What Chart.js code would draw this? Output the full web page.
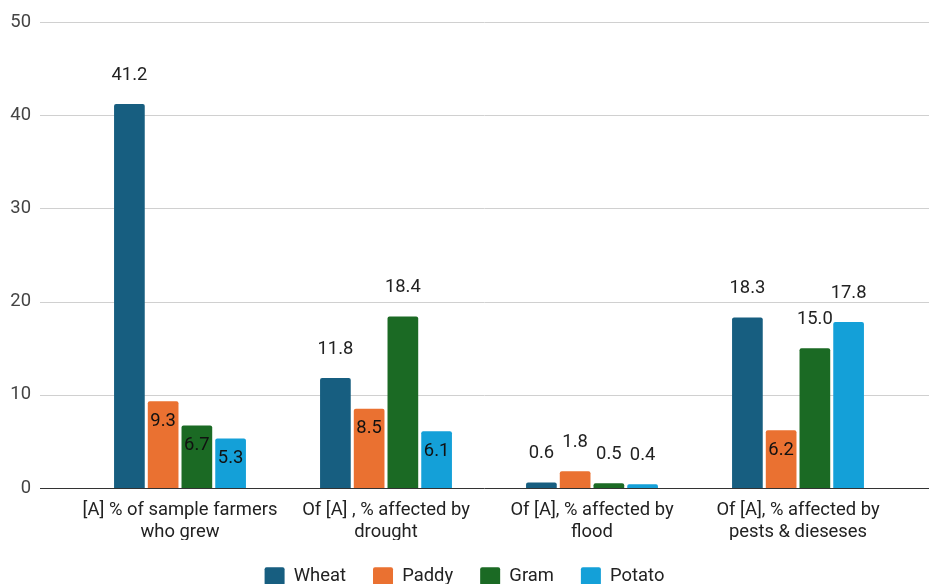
<!DOCTYPE html>
<html>
<head>
<meta charset="utf-8">
<script src="https://cdn.jsdelivr.net/npm/chart.js@4/dist/chart.umd.min.js"></script>
<style>
  html, body { margin: 0; padding: 0; background: #ffffff; }
  #wrap { width: 929px; height: 584px; }
</style>
</head>
<body>
<div id="wrap"><canvas id="c" width="929" height="584"></canvas></div>
<script>
// Categories (two-line axis labels)
const categories = [
  ["[A] % of sample farmers", "who grew"],
  ["Of [A] , % affected by", "drought"],
  ["Of [A], % affected by", "flood"],
  ["Of [A], % affected by", "pests & dieseses"]
];

// Series values
const wheat  = [41.2, 11.8, 0.6, 18.3];
const paddy  = [9.3, 8.5, 1.8, 6.2];
const gram   = [6.7, 18.4, 0.5, 15.0];
const potato = [5.3, 6.1, 0.4, 17.8];

// Value-label placement: true = label sits inside the top of the bar
const wheatInside  = [false, false, false, false];
const paddyInside  = [true, true, false, true];
const gramInside   = [true, false, false, false];
const potatoInside = [true, true, false, false];

const yTicks = [0, 10, 20, 30, 40, 50];

const FONT = "Roboto, 'Noto Sans', sans-serif";
const FS = 18.4;

// Horizontal grid lines spanning the full width, positioned by the y scale
const wideGrid = {
  id: 'wideGrid',
  beforeDatasetsDraw(chart) {
    const ctx = chart.ctx;
    const y = chart.scales.y;
    ctx.save();
    y.ticks.forEach(t => {
      const py = Math.round(y.getPixelForValue(t.value)) + 0.5;
      ctx.beginPath();
      ctx.lineWidth = 1;
      ctx.strokeStyle = t.value === 0 ? '#333333' : '#d0d0d0';
      ctx.moveTo(40, py);
      ctx.lineTo(chart.width, py);
      ctx.stroke();
    });
    ctx.restore();
  }
};

// Value labels above (or inside) each bar
const valueLabels = {
  id: 'valueLabels',
  afterDatasetsDraw(chart) {
    const ctx = chart.ctx;
    ctx.save();
    ctx.font = FS + 'px ' + FONT;
    ctx.textAlign = 'center';
    ctx.textBaseline = 'middle';
    chart.data.datasets.forEach((ds, di) => {
      const meta = chart.getDatasetMeta(di);
      meta.data.forEach((bar, i) => {
        const v = ds.data[i];
        const inside = ds.labelInside[i];
        ctx.fillStyle = inside ? '#111111' : '#222222';
        const ty = inside ? bar.y + 20 : bar.y - 29;
        ctx.fillText(v.toFixed(1), bar.x, ty);
      });
    });
    ctx.restore();
  }
};

const barStyle = { borderRadius: 2, borderSkipped: 'bottom', categoryPercentage: 0.655, barPercentage: 0.91 };

new Chart(document.getElementById('c'), {
  type: 'bar',
  data: {
    labels: categories,
    datasets: [
      Object.assign({ label: 'Wheat',  data: wheat,  labelInside: wheatInside,  backgroundColor: '#175e80' }, barStyle),
      Object.assign({ label: 'Paddy',  data: paddy,  labelInside: paddyInside,  backgroundColor: '#ea7131' }, barStyle),
      Object.assign({ label: 'Gram',   data: gram,   labelInside: gramInside,   backgroundColor: '#1b6a24' }, barStyle),
      Object.assign({ label: 'Potato', data: potato, labelInside: potatoInside, backgroundColor: '#14a0d8' }, barStyle)
    ]
  },
  options: {
    responsive: false,
    animation: false,
    layout: { padding: { top: 22, right: 0, left: 0, bottom: 0 } },
    scales: {
      x: {
        grid: { display: false, drawTicks: false },
        border: { display: false },
        afterFit(scale) { scale.height = 52; },
        ticks: {
          color: '#222222',
          font: { family: FONT, size: FS },
          padding: 11,
          maxRotation: 0,
          autoSkip: false
        }
      },
      y: {
        min: 0,
        max: 50,
        afterBuildTicks(scale) { scale.ticks = yTicks.map(v => ({ value: v })); },
        afterFit(scale) {
          scale.width = 77;
          scale.paddingTop = 10;
          scale.paddingBottom = 10;
        },
        grid: { display: false, drawTicks: false },
        border: { display: false },
        ticks: {
          color: '#444444',
          font: { family: FONT, size: FS },
          padding: 46
        }
      },
      // empty right-hand margin axis (no ticks drawn)
      yRight: {
        position: 'right',
        min: 0,
        max: 50,
        afterFit(scale) {
          scale.width = 28;
          scale.paddingTop = 0;
          scale.paddingBottom = 0;
        },
        grid: { display: false, drawTicks: false },
        border: { display: false },
        ticks: { display: false }
      }
    },
    plugins: {
      legend: {
        position: 'bottom',
        maxHeight: 44,
        labels: {
          color: '#222222',
          font: { family: FONT, size: FS },
          boxWidth: 20,
          boxHeight: 18,
          useBorderRadius: true,
          borderRadius: 2,
          padding: 27
        }
      },
      tooltip: { enabled: false }
    }
  },
  plugins: [wideGrid, valueLabels]
});
</script>
</body>
</html>
